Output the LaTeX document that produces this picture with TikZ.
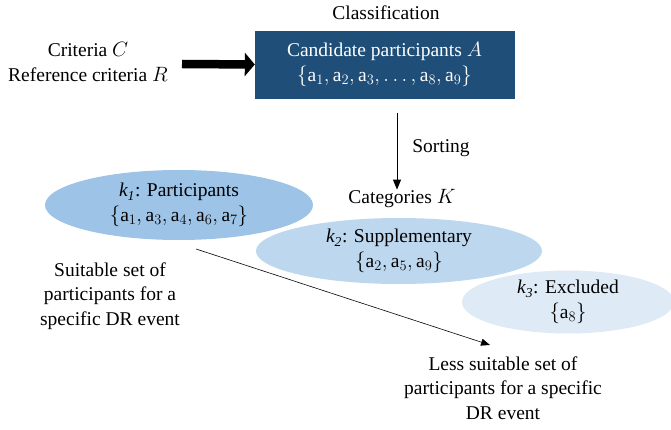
\documentclass[tikz,border=0pt]{standalone}
\usepackage{fontspec}
\setmainfont{Liberation Serif}
\usetikzlibrary{shapes.geometric,arrows.meta}
\definecolor{boxblue}{RGB}{31,78,121}
\definecolor{ellA}{RGB}{157,195,230}
\definecolor{ellB}{RGB}{189,215,238}
\definecolor{ellC}{RGB}{222,235,247}
\newcommand{\mysz}{\fontsize{19.5}{24.5}\selectfont}
\newcommand{\ael}[1]{\mathrm{a}_{#1}}
\tikzset{
  txt/.style={align=center,inner sep=0pt,font=\mysz},
  cat/.style={ellipse,inner sep=0pt,align=center,font=\mysz},
  thin arrow/.style={-{Triangle[length=10pt,width=8pt]},line width=0.9pt},
}
\begin{document}
\begin{tikzpicture}[x=1pt,y=-1pt]
\clip (0,0) rectangle (671,430);
\fill[white] (0,0) rectangle (671,430);
% top
\node[txt] (cls) at (386,13) {Classification};
\node[fill=boxblue,draw=boxblue,minimum width=259pt,minimum height=67pt,inner sep=0pt,
      text=white,align=center,font=\mysz] (A) at (384.5,64.5)
  {Candidate participants $A$\\ $\{\ael1,\ael2,\ael3,\ldots,\ael8,\ael9\}$};
\node[txt] (crit) at (88,62) {Criteria $C$\\Reference criteria $R$};
\coordinate (tstart) at (182,64);
\draw[line width=8.5pt,-{Triangle[length=10pt,width=23pt]}] (tstart) -- (A.west);
% sorting
\node[cat,fill=ellA,minimum width=268pt,minimum height=70pt] (k1) at (179,205)
  {\textit{k\textsubscript{1}}: Participants\\ $\{\ael1,\ael3,\ael4,\ael6,\ael7\}$};
\node[cat,fill=ellB,minimum width=286pt,minimum height=66pt] (k2) at (399,251)
  {\textit{k\textsubscript{2}}: Supplementary\\ $\{\ael2,\ael5,\ael9\}$};
\node[cat,fill=ellC,minimum width=212pt,minimum height=63pt] (k3) at (568,302)
  {\textit{k\textsubscript{3}}: Excluded\\ $\{\ael8\}$};
\node[txt] (catK) at (402,199) {Categories $K$};
\draw[thin arrow] (397,113) -- (catK.north -| 397,0);
\node[txt] (sort) at (441,148) {Sorting};
\node[txt] (suit) at (110,296) {Suitable set of\\participants for a\\specific DR event};
\node[txt] (less) at (503,388) {Less suitable set of\\participants for a specific\\DR event};
\coordinate (dstart) at (196,249);
\coordinate (dend) at (490,345);
\draw[-{Triangle[length=9pt,width=7pt]},line width=0.6pt] (dstart) -- (dend);
\end{tikzpicture}
\end{document}
